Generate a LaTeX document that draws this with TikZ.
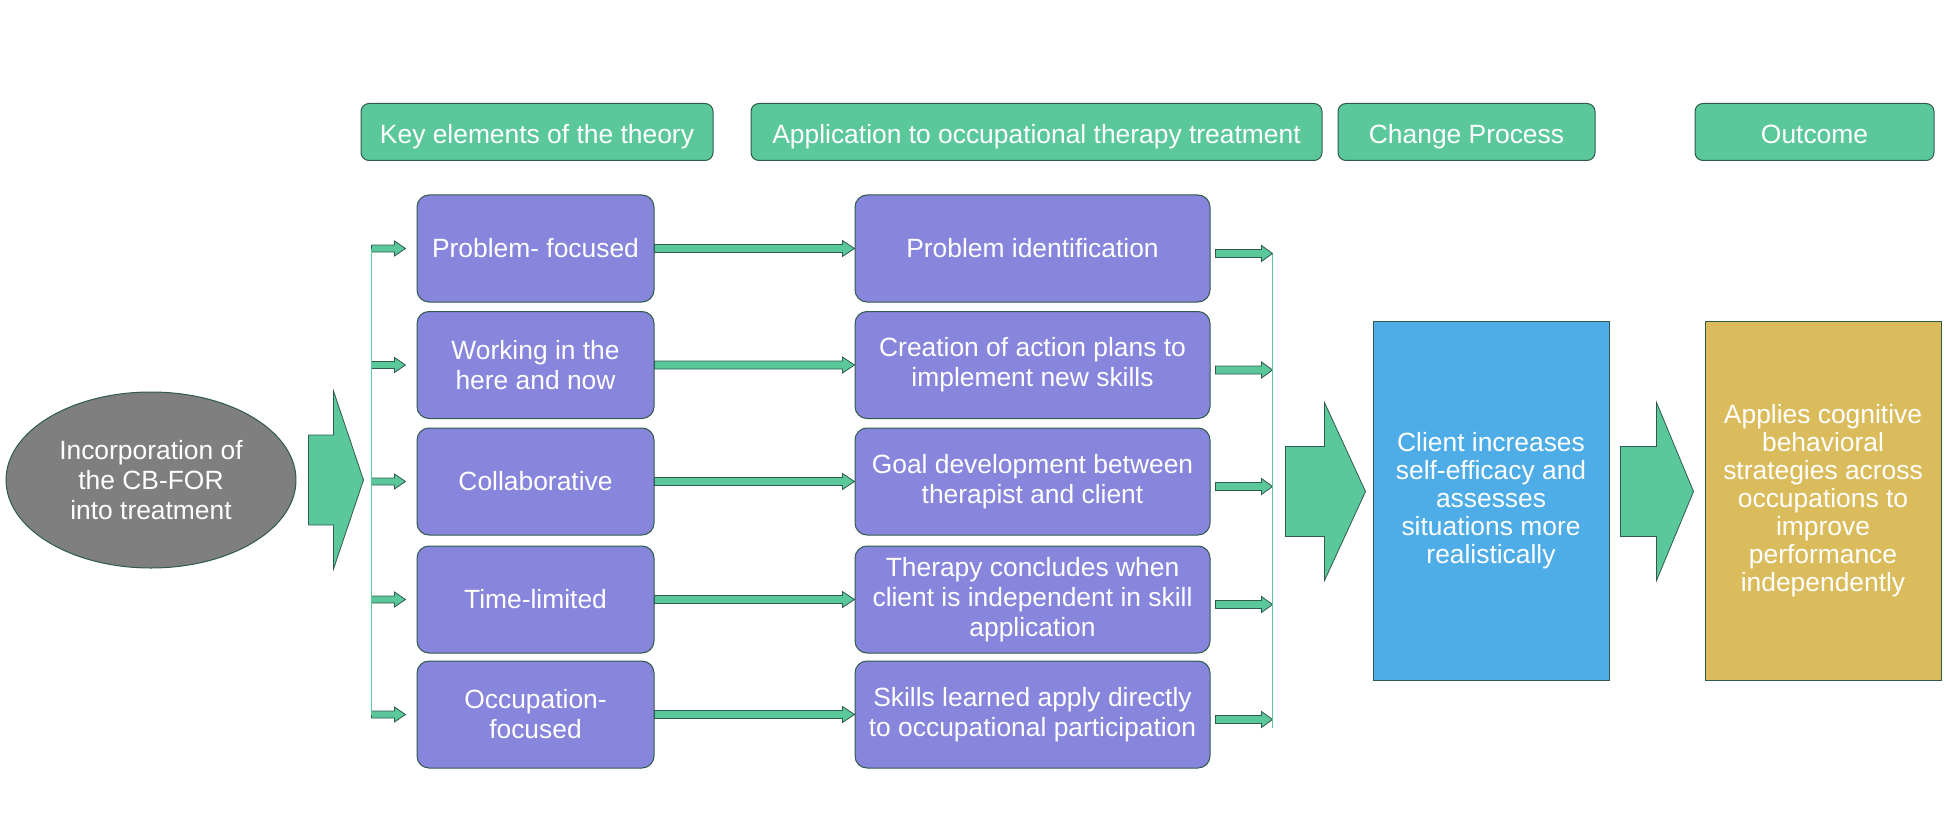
\documentclass[tikz,border=0pt]{standalone}
\usepackage{fontspec}
\setmainfont{Liberation Sans}
\usetikzlibrary{calc,shapes.geometric}
\definecolor{FlowGreen}{HTML}{5BC89B}
\definecolor{FlowPurple}{HTML}{8785DC}
\definecolor{FlowBlue}{HTML}{4EACE6}
\definecolor{FlowGold}{HTML}{DBBC5C}
\definecolor{FlowGray}{HTML}{7F7F7F}
\definecolor{FlowEdge}{HTML}{2F5A4C}

% horizontal block arrow: start, tip, shaft half, head half, head length
\newcommand{\blockarrow}[5]{%
  \filldraw[arrowbody] let \p1=(#1), \p2=(#2) in
    (\x1,\y1+#3) -- (\x2-#5,\y1+#3) -- (\x2-#5,\y1+#4) -- (\x2,\y1)
    -- (\x2-#5,\y1-#4) -- (\x2-#5,\y1-#3) -- (\x1,\y1-#3) -- cycle;}

\begin{document}
\begin{tikzpicture}[x=0.5pt,y=-0.5pt,
    every node/.style={font=\fontsize{13.2}{15}\selectfont, text=white, align=center, inner sep=0pt},
    header/.style={draw=FlowEdge, line width=0.5pt, fill=FlowGreen, rounded corners=4pt, minimum height=28.5pt,
        text height=12.5pt, text depth=0.5pt},
    theory/.style={draw=FlowEdge, line width=0.5pt, fill=FlowPurple, rounded corners=6pt, minimum width=118.5pt, minimum height=53.5pt},
    apply/.style={theory, minimum width=177.5pt},
    result/.style={draw=FlowEdge, line width=0.5pt, minimum width=118pt, minimum height=179.5pt,
        font=\fontsize{13.2}{14}\selectfont},
    arrowbody/.style={fill=FlowGreen, draw=FlowEdge, line width=0.4pt},
    bracket/.style={draw=FlowGreen, line width=0.6pt}]

    \useasboundingbox (0,0) rectangle (1946,818);

    % ========== Column headers ==========
    \node[header, minimum width=176pt] (h1) at (537,132) {Key elements of the theory};
    \node[header, minimum width=285.5pt] (h2) at (1036.5,132) {Application to occupational therapy treatment};
    \node[header, minimum width=128.5pt] (h3) at (1466.5,132) {Change Process};
    \node[header, minimum width=119.5pt] (h4) at (1814.5,132) {Outcome};

    % ========== Starting point ==========
    \node[ellipse, draw=FlowEdge, line width=0.5pt, fill=FlowGray, minimum width=145pt, minimum height=88pt] (cbfor) at (151,480)
        {Incorporation of\\the CB-FOR\\into treatment};

    % ========== Key elements ==========
    \node[theory] (t1) at (535.5,248.5) {Problem- focused};
    \node[theory] (t2) at (535.5,365) {Working in the\\here and now};
    \node[theory] (t3) at (535.5,481.5) {Collaborative};
    \node[theory] (t4) at (535.5,599.5) {Time-limited};
    \node[theory] (t5) at (535.5,714.5) {Occupation-\\focused};

    % ========== Application to treatment ==========
    \node[apply] (a1) at (1032.5,248.5) {Problem identification};
    \node[apply] (a2) at (1032.5,365) {Creation of action plans to\\implement new skills};
    \node[apply] (a3) at (1032.5,481.5) {Goal development between\\therapist and client};
    \node[apply] (a4) at (1032.5,599.5) {Therapy concludes when\\client is independent in skill\\application};
    \node[apply] (a5) at (1032.5,714.5) {Skills learned apply directly\\to occupational participation};

    % ========== Change and outcome ==========
    \node[result, fill=FlowBlue] (change) at (1491,500.5)
        {Client increases\\self-efficacy and\\assesses\\situations more\\realistically};
    \node[result, fill=FlowGold] (outcome) at (1823,500.5)
        {Applies cognitive\\behavioral\\strategies across\\occupations to\\improve\\performance\\independently};

    % ========== Small arrows ==========
    \foreach \i in {1,...,5} {
        \coordinate (lb\i) at ($(t\i.west)+(-45,0)$);
        \coordinate (rb\i) at ($(a\i.east)+(62,5)$);
        \blockarrow{lb\i}{$(t\i.west)+(-11,0)$}{1.75pt}{3.75pt}{5.5pt}
        \blockarrow{t\i.east}{a\i.west}{2pt}{4pt}{6pt}
        \blockarrow{$(a\i.east)+(5,5)$}{rb\i}{2pt}{4pt}{5.5pt}
    }
    \coordinate (rbend) at ($(rb5)+(0,8)$);

    % brackets
    \draw[bracket] (lb1) -- (lb5);
    \draw[bracket] (rb1) -- (rbend);

    % ========== Big arrows ==========
    \blockarrow{$(cbfor.east)+(12,0)$}{$(lb3)+(-8,0)$}{22.5pt}{44.5pt}{15pt}
    \blockarrow{$(change.west)+(-87,-9)$}{$(change.west)+(-7,-9)$}{22.5pt}{44.5pt}{20.5pt}
    \blockarrow{$(outcome.west)+(-84,-9)$}{$(outcome.west)+(-11,-9)$}{22.5pt}{44.5pt}{18.5pt}

\end{tikzpicture}
\end{document}
